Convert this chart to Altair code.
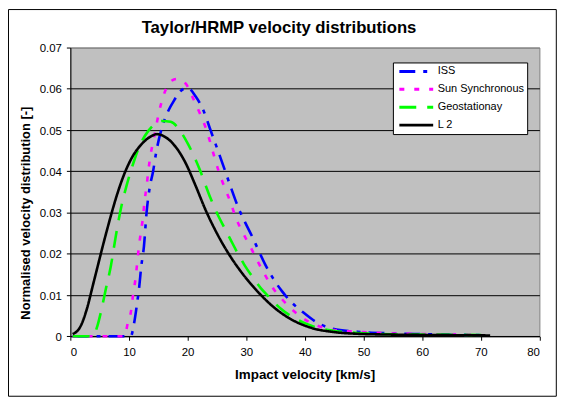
import altair as alt
import pandas as pd

title_text = "Taylor/HRMP velocity distributions"
series = ["ISS", "Sun Synchronous", "Geostationay", "L 2"]
colors = ["#0000FF", "#FF00FF", "#00FF00", "#000000"]

iss_x = [0.4, 5.0, 10.3, 10.9, 11.4, 11.7, 12.1, 12.55, 13.0, 13.56, 14.1, 14.6, 15.65, 16.5, 17.7, 19.1, 20.0,
         21.35, 22.8, 23.9, 25.2, 26.2, 27.3, 28.7, 29.85, 31.0, 32.1, 33.2, 34.5, 36.05, 37.2, 39.7, 42.0,
         44.8, 49.0, 54.6, 60.3, 69.8]
iss_y = [0.0, 0.0, 0.0, 0.0034, 0.0082, 0.0114, 0.017, 0.0218, 0.0300, 0.0363, 0.0399, 0.0443, 0.0507, 0.054,
         0.0572, 0.0598, 0.0602, 0.0582, 0.0544, 0.050, 0.0449, 0.0409, 0.0364, 0.0310, 0.0275, 0.0242, 0.0208,
         0.0175, 0.0142, 0.011, 0.0090, 0.0058, 0.0034, 0.0018, 0.0011, 0.0007, 0.0005, 0.0003]

sun_x = [0.4, 9.3, 9.7, 10.4, 10.7, 11.1, 11.4, 11.7, 12.0, 12.4, 12.65, 13.0, 13.28, 13.67, 14.25, 15.1, 16.0,
         17.3, 18.2, 19.7, 20.9, 22.1, 23.05, 23.8, 24.6, 25.3, 26.3, 27.3, 28.15, 29.3, 30.6, 31.8, 33.1,
         34.4, 36.1, 38.05, 40.3, 42.9, 45.0, 49.0, 54.6, 62.0, 69.3]
sun_y = [0.0, 0.0, 0.0026, 0.0066, 0.0102, 0.0138, 0.0178, 0.0218, 0.025, 0.029, 0.0327, 0.0363, 0.0399, 0.0439,
         0.0480, 0.0542, 0.0588, 0.0620, 0.0624, 0.0612, 0.0578, 0.0540, 0.0507, 0.0473, 0.0433, 0.0400, 0.0361,
         0.0326, 0.029, 0.0254, 0.022, 0.0186, 0.0151, 0.0120, 0.0090, 0.0062, 0.0038, 0.0022, 0.0015, 0.0011,
         0.0007, 0.0005, 0.0004]

geo_x = [0.4, 3.8, 4.63, 5.2, 6.04, 6.9, 7.74, 8.58, 9.7, 10.86, 11.7, 13.3, 14.8, 15.6, 17.1, 19.1, 20.1, 21.4,
         22.1, 23.07, 23.9, 25.0, 26.2, 27.3, 28.4, 29.6, 31.0, 32.4, 34.1, 35.8, 38.0, 40.3, 42.9, 45.1,
         49.0, 55.0, 62.0, 71.2]
geo_y = [0.0, 0.0, 0.0026, 0.0058, 0.0114, 0.017, 0.0242, 0.0307, 0.0371, 0.0425, 0.0458, 0.0498, 0.0518, 0.0522,
         0.052, 0.049, 0.0465, 0.0427, 0.0403, 0.0366, 0.0335, 0.0299, 0.0265, 0.0235, 0.0205, 0.0175, 0.0145,
         0.0118, 0.0092, 0.0068, 0.0046, 0.003, 0.0018, 0.0013, 0.0008, 0.0005, 0.0004, 0.0003]

l2_x = [0.4, 1.8, 2.93, 3.78, 4.63, 5.48, 6.33, 7.18, 8.0, 9.16, 10.57, 11.98, 13.67, 14.8, 16.2, 17.97, 19.66,
        21.36, 23.07, 24.8, 27.0, 29.3, 32.1, 34.9, 37.8, 41.2, 45.1, 49.0, 55.0, 62.0, 71.6]
l2_y = [0.0005, 0.0026, 0.0072, 0.0120, 0.0168, 0.0216, 0.0262, 0.0306, 0.0345, 0.0392, 0.0435, 0.0463, 0.0484,
        0.0490, 0.0483, 0.0459, 0.0420, 0.0365, 0.0306, 0.0255, 0.0200, 0.0153, 0.0106, 0.0068, 0.0040, 0.0020,
        0.0010, 0.0006, 0.0004, 0.0003, 0.0002]

x_ticks = [0, 10, 20, 30, 40, 50, 60, 70, 80]
y_ticks = [0, 0.01, 0.02, 0.03, 0.04, 0.05, 0.06, 0.07]

rows = []
for name, xs, ys in zip(series, [iss_x, sun_x, geo_x, l2_x], [iss_y, sun_y, geo_y, l2_y]):
    for i, (a, b) in enumerate(zip(xs, ys)):
        rows.append({"series": name, "v": a, "d": b, "i": i})
df = pd.DataFrame(rows)

W, H = 471.6, 290.3
FONT = "Liberation Sans"

legend = alt.Legend(
    title=None, orient="none", legendX=324.3, legendY=15,
    fillColor="white", strokeColor="black", padding=3,
    symbolType="stroke", symbolSize=1156, symbolStrokeWidth=3, symbolOffset=2,
    clipHeight=12, rowPadding=6, labelOffset=3,
    labelFont=FONT, labelFontSize=11, labelColor="black",
)

lines = alt.Chart(df).mark_line(strokeWidth=2.6, interpolate="monotone").encode(
    x=alt.X("v:Q", scale=alt.Scale(domain=[0, 80], nice=False),
            axis=alt.Axis(values=x_ticks, title="Impact velocity [km/s]", grid=False,
                          tickSize=4, labelPadding=15.3, labelBaseline="alphabetic",
                          titleX=235.5, titleY=42, titleBaseline="alphabetic", titleAlign="center")),
    y=alt.Y("d:Q", scale=alt.Scale(domain=[0, 0.07], nice=False),
            axis=alt.Axis(values=y_ticks, title="Normalised velocity distribution [-]",
                          labelExpr="datum.value == 0 ? '0' : format(datum.value, '.2f')",
                          tickSize=4, labelPadding=5, labelOffset=1,
                          gridColor={"condition": {"test": "datum.value >= 0.069", "value": "#808080"},
                                     "value": "black"},
                          titleX=-40.7, titleY=166, titleBaseline="alphabetic", titleAlign="center",
                          titleAngle=270, titleFontSize=13)),
    color=alt.Color("series:N", scale=alt.Scale(domain=series, range=colors), sort=series, legend=legend),
    strokeDash=alt.StrokeDash("series:N", sort=series,
                              scale=alt.Scale(domain=series, range=[[16, 8, 4, 8], [5, 10], [17, 11], [1, 0]]),
                              legend=legend),
    order=alt.Order("i:Q"),
)

frame = alt.Chart(pd.DataFrame({"k": [0]})).mark_rect(filled=False, stroke="black", strokeWidth=1).encode(
    x=alt.value(-62.2), x2=alt.value(488.6), y=alt.value(-38.2), y2=alt.value(350.6)
)

title = alt.Chart(pd.DataFrame({"t": [title_text]})).mark_text(
    font=FONT, fontSize=16.8, fontWeight="bold", color="black", align="center", baseline="alphabetic"
).encode(text="t:N", x=alt.value(209.8), y=alt.value(-14.2))

chart = alt.layer(lines, frame, title).properties(
    width=W, height=H,
    autosize=alt.AutoSizeParams(type="none"),
    padding={"left": 62.7, "top": 38.7, "right": 17.7, "bottom": 61},
).configure(background="white").configure_view(
    fill="#C0C0C0", stroke="#808080", strokeWidth=1
).configure_axis(
    labelFont=FONT, labelFontSize=11.5, labelColor="black",
    titleFont=FONT, titleFontSize=13.5, titleFontWeight="bold", titleColor="black",
    domainColor="black", tickColor="black", gridColor="black", gridWidth=1, domainWidth=1, tickWidth=1,
)

chart.save("out.html", embed_options={"renderer": "svg", "actions": False})
